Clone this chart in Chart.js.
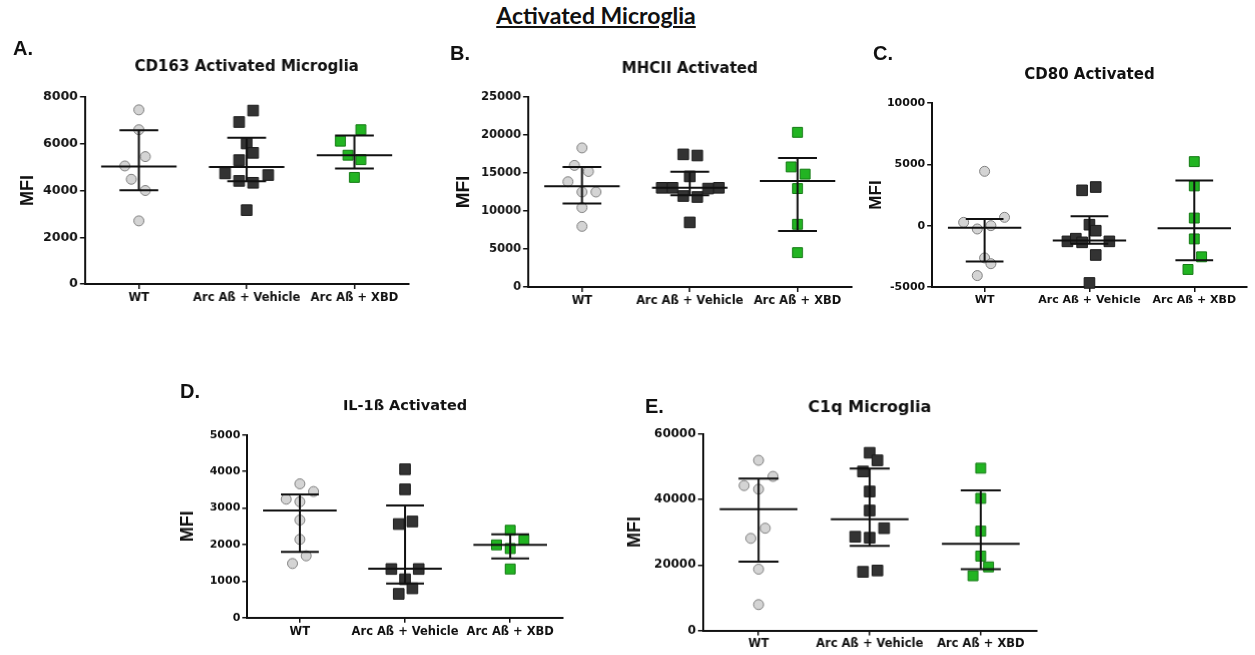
<!DOCTYPE html>
<html>
<head>
<meta charset="utf-8">
<title>Activated Microglia</title>
<script src="https://cdn.jsdelivr.net/npm/chart.js@4.4.1/dist/chart.umd.min.js"></script>
<style>
  body { margin: 0; background: #fff; }
  #fig { position: relative; width: 1255px; height: 655px; background: #fff; overflow: hidden; }
  .panel { position: absolute; }
  .letter { position: absolute; font: bold 20px/20px "Liberation Sans", Arial, sans-serif; color: #111; }
  #header { position: absolute; top: 4px; left: 596px; transform: translateX(-50%);
    font: bold 23px/23px Lato, "Open Sans", sans-serif; color: #111;
    text-decoration: underline; white-space: nowrap; }
</style>
</head>
<body>
<div id="fig">
  <div id="header">Activated Microglia</div>
</div>
<script>
// groupes (axe x)
const groups = ["WT", "Arc Aß + Vehicle", "Arc Aß + XBD"];

// A. CD163, décalage horizontal en unités de catégorie
const cd163Values = [
  [7450, 6600, 5450, 5050, 4480, 4000, 2700],
  [7420, 6930, 6010, 5610, 5300, 4730, 4660, 4410, 4330, 3160],
  [6600, 6110, 5510, 5320, 4560],
];
const cd163Spread = [
  [0, 0, 0.06, -0.13, -0.07, 0.06, 0],
  [0.06, -0.07, 0, 0.06, -0.07, -0.2, 0.2, -0.07, 0.06, 0],
  [0.06, -0.13, -0.06, 0.06, 0],
];
const cd163Mid = [5030, 5010, 5510];
const cd163Low = [4010, 4400, 4940];
const cd163High = [6580, 6260, 6350];
const cd163Axis = [0, 8000, 2000];

// B. MHCII
const mhcValues = [
  [18300, 16000, 15200, 13850, 12500, 12500, 10450, 7980],
  [17450, 17300, 14550, 13050, 13050, 12950, 13050, 11970, 11840, 8500],
  [20350, 15800, 14850, 12950, 8250, 4520],
];
const mhcSpread = [
  [0, -0.07, 0.06, -0.13, 0, 0.13, 0, 0],
  [-0.06, 0.07, 0, -0.26, -0.16, 0.17, 0.27, -0.06, 0.07, 0],
  [0, -0.06, 0.07, 0, 0, 0],
];
const mhcMid = [13250, 13050, 13950];
const mhcLow = [11000, 12060, 7370];
const mhcHigh = [15790, 15180, 16970];
const mhcAxis = [0, 25000, 5000];

// C. CD80
const cd80Values = [
  [4430, 680, 270, 0, -270, -2630, -3100, -4070],
  [3150, 2880, 80, -410, -1280, -1060, -1360, -1280, -2390, -4670],
  [5220, 3240, 620, -1080, -2540, -3570],
];
const cd80Spread = [
  [0, 0.19, -0.2, 0.06, -0.07, 0, 0.06, -0.07],
  [0.06, -0.07, 0, 0.06, -0.21, -0.13, -0.07, 0.19, 0.06, 0],
  [0, 0, 0, 0, 0.07, -0.06],
];
const cd80Mid = [-160, -1200, -220];
const cd80Low = [-2930, -1470, -2810];
const cd80High = [540, 760, 3680];
const cd80Axis = [-5000, 10000, 5000];

// D. IL-1ß
const il1Values = [
  [3660, 3450, 3240, 3170, 2670, 2140, 1690, 1480],
  [4060, 3510, 2560, 2630, 1330, 1330, 1050, 800, 650],
  [2390, 2120, 1990, 1890, 1330],
];
const il1Spread = [
  [0, 0.13, -0.13, 0, 0, 0, 0.06, -0.07],
  [0, 0, -0.06, 0.07, -0.13, 0.13, 0, 0.07, -0.06],
  [0, 0.13, -0.13, 0, 0],
];
const il1Mid = [2930, 1340, 1990];
const il1Low = [1800, 930, 1620];
const il1High = [3370, 3070, 2280];
const il1Axis = [0, 5000, 1000];

// E. C1q
const c1qValues = [
  [51900, 47000, 44200, 43100, 31200, 28100, 18700, 7900],
  [54200, 51900, 48500, 42400, 36600, 31200, 28600, 28300, 17900, 18300],
  [49500, 40300, 30300, 22700, 19400, 16700],
];
const c1qSpread = [
  [0, 0.13, -0.13, 0, 0.06, -0.07, 0, 0],
  [0, 0.07, -0.06, 0, 0, 0.13, -0.13, 0, -0.06, 0.07],
  [0, 0, 0, 0, 0.07, -0.07],
];
const c1qMid = [37000, 33900, 26400];
const c1qLow = [21000, 25800, 18700];
const c1qHigh = [46300, 49400, 42700];
const c1qAxis = [0, 60000, 20000];

const panels = [
  { letter: "A.", title: "CD163 Activated Microglia", values: cd163Values, spread: cd163Spread, mid: cd163Mid, low: cd163Low, high: cd163High, axis: cd163Axis },
  { letter: "B.", title: "MHCII Activated", values: mhcValues, spread: mhcSpread, mid: mhcMid, low: mhcLow, high: mhcHigh, axis: mhcAxis },
  { letter: "C.", title: "CD80 Activated", values: cd80Values, spread: cd80Spread, mid: cd80Mid, low: cd80Low, high: cd80High, axis: cd80Axis },
  { letter: "D.", title: "IL-1ß Activated", values: il1Values, spread: il1Spread, mid: il1Mid, low: il1Low, high: il1High, axis: il1Axis },
  { letter: "E.", title: "C1q Microglia", values: c1qValues, spread: c1qSpread, mid: c1qMid, low: c1qLow, high: c1qHigh, axis: c1qAxis },
];

// mise en page de chaque panneau (zone de tracé, titre, tailles de police)
const layouts = [
  { L: 85, R: 412, T: 97, B: 284, titleY: 67, mfiX: 28, ts: 15, tick: 12.5, xl: 11.5, mfi: 18, lx: 13, ly: 38 },
  { L: 528, R: 855, T: 97, B: 287, titleY: 69, mfiX: 463.5, ts: 15, tick: 11.5, xl: 11.5, mfi: 19, lx: 450, ly: 43 },
  { L: 932, R: 1251, T: 103, B: 287, titleY: 75, mfiX: 876, ts: 15, tick: 11, xl: 11, mfi: 17, lx: 873, ly: 43 },
  { L: 247, R: 567, T: 435, B: 617, titleY: 407, mfiX: 187.5, ts: 14.5, tick: 11, xl: 11.5, mfi: 18, lx: 180, ly: 381 },
  { L: 703, R: 1040, T: 434, B: 630, titleY: 408, mfiX: 635, ts: 16, tick: 12, xl: 11.5, mfi: 18, lx: 645, ly: 396 },
];

const markStyles = [
  { pointStyle: "circle", pointRadius: 5, pointBackgroundColor: "#d4d4d4", pointBorderColor: "#808080" },
  { pointStyle: "rect", pointRadius: 7.5, pointBackgroundColor: "#333333", pointBorderColor: "#1c1c1c" },
  { pointStyle: "rect", pointRadius: 7, pointBackgroundColor: "#22b422", pointBorderColor: "#147a14" },
];

const sans = "'DejaVu Sans', sans-serif";
const arial = "'Liberation Sans', Arial, sans-serif";
const fig = document.getElementById("fig");

function crearPanel(p, g) {
  const left = g.mfiX - 4 - 0.6 * g.mfi;
  const top = g.titleY - 0.6 * g.ts;
  const box = document.createElement("div");
  box.className = "panel";
  box.style.left = left + "px";
  box.style.top = top + "px";
  box.style.width = (g.R - left + 4) + "px";
  box.style.height = (g.B - top + 28) + "px";
  const canvas = document.createElement("canvas");
  box.appendChild(canvas);
  fig.appendChild(box);

  const letter = document.createElement("div");
  letter.className = "letter";
  letter.textContent = p.letter;
  letter.style.left = g.lx + "px";
  letter.style.top = g.ly + "px";
  fig.appendChild(letter);

  // ligne centrale + barres d'erreur
  const bars = [];
  p.mid.forEach((m, i) => {
    const x = i + 1;
    bars.push({ x: x - 0.35, y: m }, { x: x + 0.35, y: m }, { x: x, y: null });
    bars.push({ x: x, y: p.low[i] }, { x: x, y: p.high[i] }, { x: x, y: null });
    bars.push({ x: x - 0.18, y: p.low[i] }, { x: x + 0.18, y: p.low[i] }, { x: x, y: null });
    bars.push({ x: x - 0.18, y: p.high[i] }, { x: x + 0.18, y: p.high[i] }, { x: x, y: null });
  });

  const datasets = [{
    data: bars,
    showLine: true,
    borderColor: "#111",
    borderWidth: 2,
    pointRadius: 0,
    spanGaps: false,
    clip: false,
  }];
  p.values.forEach((vals, i) => {
    datasets.push(Object.assign({
      data: vals.map((v, k) => ({ x: i + 1 + p.spread[i][k], y: v })),
      pointBorderWidth: 1,
      clip: false,
    }, markStyles[i]));
  });

  const axisGrid = { display: true, drawOnChartArea: false, drawTicks: true, tickLength: 5, color: "#111", lineWidth: 1.5 };
  const axisBorder = { display: true, color: "#111", width: 2 };

  new Chart(canvas, {
    type: "scatter",
    data: { datasets: datasets },
    options: {
      responsive: true,
      maintainAspectRatio: false,
      animation: false,
      events: [],
      layout: { padding: { left: 0, right: 4, top: 0, bottom: 0 } },
      plugins: {
        legend: { display: false },
        tooltip: { enabled: false },
        title: {
          display: true,
          text: p.title,
          fullSize: false,
          color: "#111",
          font: { family: sans, weight: "bold", size: g.ts },
          padding: { top: 0, bottom: g.T - g.titleY - 0.6 * g.ts },
        },
      },
      scales: {
        x: {
          type: "linear",
          min: 0.5,
          max: 3.5,
          afterBuildTicks: (ax) => { ax.ticks = groups.map((_, i) => ({ value: i + 1 })); },
          afterFit: (ax) => { ax.height = 28; },
          ticks: {
            callback: (v) => groups[v - 1],
            color: "#111",
            font: { family: sans, weight: "bold", size: g.xl },
            padding: 2,
            maxRotation: 0,
            autoSkip: false,
          },
          grid: axisGrid,
          border: axisBorder,
        },
        y: {
          min: p.axis[0],
          max: p.axis[1],
          afterFit: (ax) => { ax.width = g.L - left; },
          ticks: {
            stepSize: p.axis[2],
            callback: (v) => String(v),
            color: "#111",
            font: { family: sans, weight: "bold", size: g.tick },
            padding: 2,
          },
          grid: axisGrid,
          border: axisBorder,
          title: {
            display: true,
            text: "MFI",
            color: "#111",
            font: { family: arial, weight: "bold", size: g.mfi },
            padding: { top: 4, bottom: 0 },
          },
        },
      },
    },
  });
}

document.addEventListener("DOMContentLoaded", () => {
  panels.forEach((p, i) => crearPanel(p, layouts[i]));
});
</script>
</body>
</html>
